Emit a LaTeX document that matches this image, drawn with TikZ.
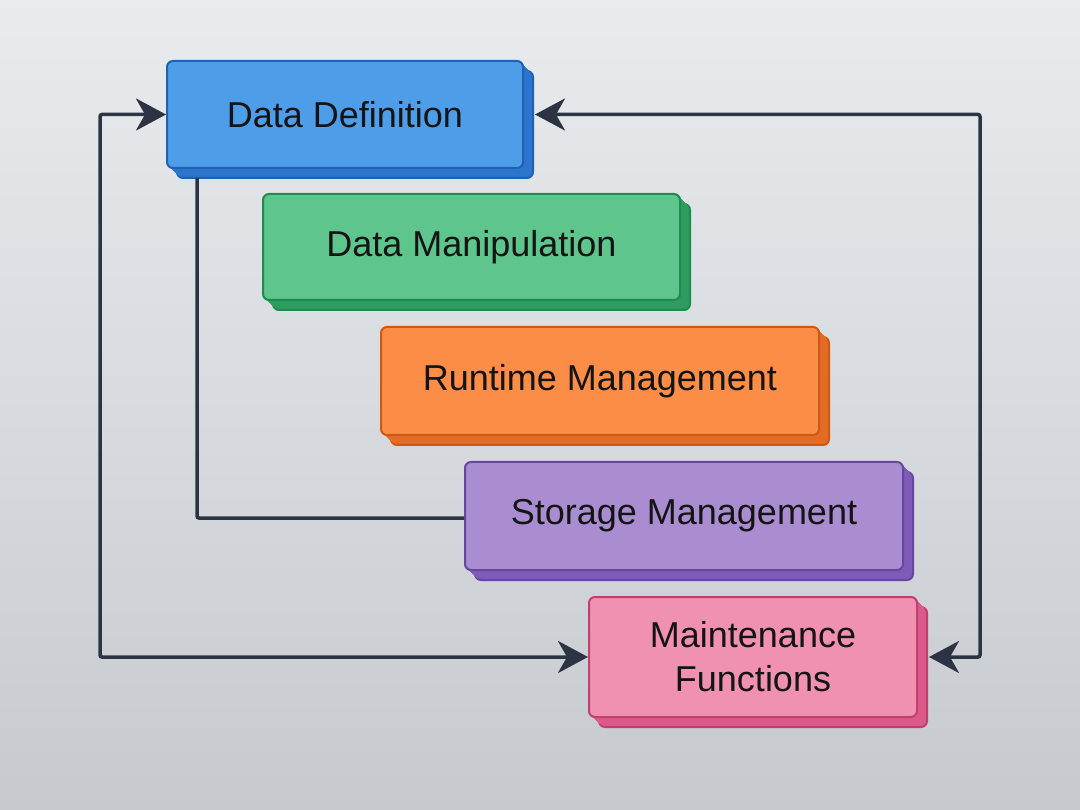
\documentclass[tikz,border=0pt]{standalone}
\usepackage{fontspec}
\setmainfont{Liberation Sans}
\usetikzlibrary{arrows.meta, shadows}

\definecolor{ink}{HTML}{2C3444}
\definecolor{bgtop}{HTML}{E9EBEE}
\definecolor{bgbot}{HTML}{C6CACF}
\definecolor{ddfill}{HTML}{4E9DE8}\definecolor{ddline}{HTML}{1F62B2}\definecolor{ddside}{HTML}{2C74CC}
\definecolor{dmfill}{HTML}{5EC58C}\definecolor{dmline}{HTML}{1E8C50}\definecolor{dmside}{HTML}{2E9C5E}
\definecolor{rmfill}{HTML}{FB8D47}\definecolor{rmline}{HTML}{CC5A16}\definecolor{rmside}{HTML}{E26C24}
\definecolor{smfill}{HTML}{AA8DD1}\definecolor{smline}{HTML}{67479E}\definecolor{smside}{HTML}{7E5BB7}
\definecolor{mffill}{HTML}{F191B2}\definecolor{mfline}{HTML}{C43F6E}\definecolor{mfside}{HTML}{DA5A8A}

\begin{document}
\begin{tikzpicture}[x=1pt, y=-1pt,
    block/.style={draw, rounded corners=6pt, line width=2pt, inner sep=0pt,
        text=black!92, font=\fontsize{36}{44}\selectfont, align=center},
    depth/.style 2 args={
        general shadow={fill=#1, draw=#2, line width=2pt, shadow xshift=10pt, shadow yshift=-10pt},
        general shadow={fill=#1, shadow xshift=8pt, shadow yshift=-8pt},
        general shadow={fill=#1, shadow xshift=6pt, shadow yshift=-6pt},
        general shadow={fill=#1, shadow xshift=4pt, shadow yshift=-4pt},
        general shadow={fill=#1, shadow xshift=2pt, shadow yshift=-2pt}},
    flow/.style={draw=ink, line width=3.5pt, rounded corners=2pt},
    both/.style={arrows={Stealth[length=30pt, width=32pt, inset=9pt]-Stealth[length=30pt, width=32pt, inset=9pt]}}]

    \shade[top color=bgtop, bottom color=bgbot] (0,0) rectangle (1080,810);
    \useasboundingbox (0,0) rectangle (1080,810);

    \coordinate (lft) at (100,0);
    \coordinate (rgt) at (980,0);
    \coordinate (knee) at (197,518);

    \node[block, fill=ddfill, draw=ddline, depth={ddside}{ddline},
        minimum width=356pt, minimum height=107pt] (dd) at (345,114.5) {Data Definition};
    \node[block, fill=dmfill, draw=dmline, depth={dmside}{dmline},
        minimum width=417pt, minimum height=106pt] (dm) at (471.5,247) {Data Manipulation};
    \node[block, fill=rmfill, draw=rmline, depth={rmside}{rmline},
        minimum width=438pt, minimum height=108pt] (rm) at (600,381) {Runtime Management};
    \node[block, fill=smfill, draw=smline, depth={smside}{smline},
        minimum width=438pt, minimum height=108pt] (sm) at (684,516) {Storage Management};
    \node[block, fill=mffill, draw=mfline, depth={mfside}{mfline},
        minimum width=328pt, minimum height=120pt] (mf) at (753,657) {Maintenance\\Functions};

    \draw[flow] ([yshift=-9pt]dd.south -| knee) -- (knee) -- (knee -| sm.west);
    \draw[flow, both] (dd.west) -| (lft |- mf.west) -- (mf.west);
    \draw[flow, both] ([xshift=11pt]dd.east) -| (rgt |- mf.east) -- ([xshift=11pt]mf.east);
\end{tikzpicture}
\end{document}
